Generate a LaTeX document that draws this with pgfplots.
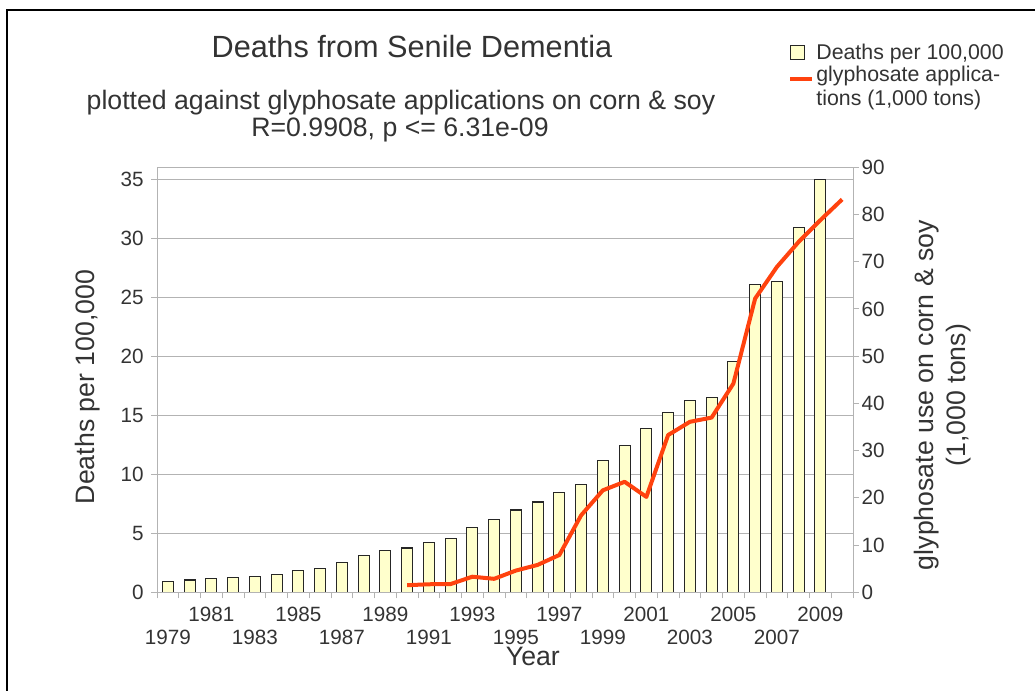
\documentclass[border=0pt]{standalone}
\usepackage{pgfplots}
\pgfplotsset{compat=1.18}
\usepackage{fontspec}
\setmainfont{Liberation Sans}

\definecolor{barfill}{HTML}{FFFFCC}
\definecolor{glyline}{HTML}{FF420E}
\definecolor{axgray}{HTML}{B3B3B3}
\definecolor{txt}{HTML}{333333}

% deaths per 100,000, 1979 = 0
\pgfplotstableread{
idx deaths
0 0.90
1 1.04
2 1.13
3 1.24
4 1.36
5 1.47
6 1.83
7 2.03
8 2.51
9 3.08
10 3.53
11 3.75
12 4.24
13 4.58
14 5.47
15 6.14
16 6.97
17 7.65
18 8.44
19 9.15
20 11.2
21 12.45
22 13.84
23 15.2
24 16.24
25 16.5
26 19.55
27 26.1
28 26.3
29 30.9
30 35.0
}\deathtable

% glyphosate (1,000 tons), 1990-2010
\pgfplotstableread{
idx glyph
11 1.5
12 1.7
13 1.75
14 3.3
15 2.85
16 4.6
17 5.8
18 7.9
19 16.3
20 21.6
21 23.4
22 20.2
23 33.3
24 36.1
25 37.0
26 44.2
27 62.2
28 68.9
29 74.2
30 78.8
31 83.2
}\glyphtable

\pgfplotsset{
  base/.style={
    scale only axis, width=522pt, height=318.75pt,
    at={(117.75pt,74.025pt)}, anchor=south west,
    xmin=-0.5, xmax=31.5,
    axis line style={axgray, line width=0.75pt},
    tick style={axgray, line width=0.75pt},
    tick align=outside, major tick length=4.5pt,
    tick label style={font=\fontsize{15.5}{17.25}\selectfont, text=txt},
    /pgf/number format/assume math mode=true,
    label style={font=\fontsize{20}{24}\selectfont, text=txt},
  }
}

\begin{document}
\begin{tikzpicture}[x=0.75pt,y=0.75pt]
\path[use as bounding box] (0,0) rectangle (1035,691);
\draw[line width=2pt] (7,0) -- (7,681) -- (1035,681);

\node[anchor=base, font=\fontsize{23}{27}\selectfont, text=txt] at (412,633) {Deaths from Senile Dementia};
\node[anchor=base, font=\fontsize{20}{24}\selectfont, text=txt] at (401,581) {plotted against glyphosate applications on corn \& soy};
\node[anchor=base, font=\fontsize{20}{24}\selectfont, text=txt] at (400,554.5) {R=0.9908, p <= 6.31e-09};

\begin{axis}[base, ybar, bar width=0.5,
  ymin=0, ymax=36, ytick={0,5,...,35},
  ytick pos=left,
  ymajorgrids, grid style={axgray, line width=0.75pt},
  xtick={0,2,...,30},
  xticklabels={{\phantom{0}\\1979},1981,{\phantom{0}\\1983},1985,{\phantom{0}\\1987},1989,{\phantom{0}\\1991},1993,{\phantom{0}\\1995},1997,{\phantom{0}\\1999},2001,{\phantom{0}\\2003},2005,{\phantom{0}\\2007},2009},
  xtick style={draw=none},
  xtick pos=left,
  x tick label style={align=center, yshift=-2.7pt},
  y tick label style={xshift=-2pt},
  ylabel={Deaths per 100,000},
  xlabel={Year},
  ylabel style={at={(axis description cs:-0.099,0.483)}, anchor=center},
  xlabel style={at={(axis description cs:0.54,-0.152)}, anchor=center},
]
\addplot[fill=barfill, draw=black!85, line width=0.8pt] table[x=idx, y=deaths] {\deathtable};
\end{axis}

\begin{axis}[base,
  ymin=0, ymax=90, ytick={0,10,...,90},
  ytick pos=right, yticklabel pos=right,
  xtick={-0.5,0.5,...,31.5}, xticklabels={}, xtick pos=left,
  y tick label style={xshift=-1.5pt},
  ylabel={glyphosate use on corn \& soy\\(1,000 tons)},
  ylabel style={at={(axis description cs:1.1293,0.464)}, anchor=center, align=center},
  legend style={at={(axis description cs:0.901,1.304)}, anchor=north west,
    draw=none, fill=none, font=\fontsize{16}{18}\selectfont, text=txt,
    cells={anchor=west, align=left}},
  legend cell align=left,
]
\addlegendimage{legend image code/.code={\draw[fill=barfill, draw=black!85, line width=0.8pt] (0pt,-5.25pt) rectangle (10.5pt,5.25pt);}}
\addlegendentry{Deaths per 100,000}
\addplot[glyline, line width=3pt, line join=round, mark=none,
  legend image code/.code={\draw[glyline, line width=3pt] (0pt,6.5pt) -- (16pt,6.5pt);}]
  table[x=idx, y=glyph] {\glyphtable};
\addlegendentry{glyphosate applica-\\tions (1,000 tons)}
\end{axis}
\end{tikzpicture}
\end{document}
